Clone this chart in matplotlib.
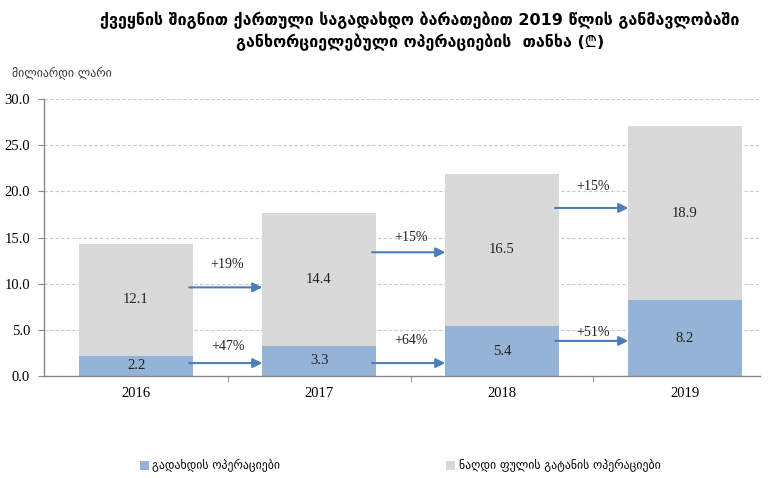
import matplotlib
matplotlib.use("Agg")
import matplotlib.pyplot as plt
import numpy as np
from matplotlib.patches import Patch

# values in billion GEL
years = ["2016", "2017", "2018", "2019"]
payments = [2.2, 3.3, 5.4, 8.2]
cash = [12.1, 14.4, 16.5, 18.9]
growth_pay = ["+47%", "+64%", "+51%"]
growth_cash = ["+19%", "+15%", "+15%"]
# arrow heights (axis units) for each transition
arrow_pay_y = [1.4, 1.4, 3.8]
arrow_cash_y = [9.6, 13.4, 18.2]
label_pay_y = [3.2, 3.8, 4.7]
label_cash_y = [12.1, 15.0, 20.5]

title = ("ქვეყნის შიგნით ქართული საგადახდო ბარათებით 2019 წლის განმავლობაში\n"
         "განხორციელებული ოპერაციების  თანხა (₾)")
unit_label = "მილიარდი ლარი"
legend_labels = ["გადახდის ოპერაციები", "ნაღდი ფულის გატანის ოპერაციები"]

BLUE = "#95b3d7"
GREY = "#d9d9d9"
ARROW = "#4a7ebb"
GEO = ["DejaVu Sans", "Noto Sans", "Inter", "Roboto", "Open Sans", "Lato"]
SERIF = ["Liberation Serif", "DejaVu Serif"]

fig = plt.figure(figsize=(7.68, 4.78), dpi=100)
ax = fig.add_axes([44 / 768, 1 - 376 / 478, 716 / 768, 277 / 478])

x = np.arange(len(years))
w = 0.62
ax.bar(x, payments, width=w, color=BLUE, zorder=2)
ax.bar(x, cash, width=w, bottom=payments, color=GREY, zorder=2)

for xi, p, c in zip(x, payments, cash):
    ax.text(xi, p / 2, f"{p:.1f}", ha="center", va="center", fontsize=10.5,
            family=SERIF, color="#222222", zorder=3)
    ax.text(xi, p + c / 2, f"{c:.1f}", ha="center", va="center", fontsize=10.5,
            family=SERIF, color="#222222", zorder=3)

# growth arrows between neighbouring bars
for i in range(len(years) - 1):
    x0 = x[i] + w / 2 - 0.02
    x1 = x[i + 1] - w / 2
    for ay, ly, txt in ((arrow_pay_y[i], label_pay_y[i], growth_pay[i]),
                        (arrow_cash_y[i], label_cash_y[i], growth_cash[i])):
        ax.annotate("", xy=(x1, ay), xytext=(x0, ay),
                    arrowprops=dict(arrowstyle="-|>", color=ARROW, lw=1.5,
                                    mutation_scale=14, shrinkA=0, shrinkB=0),
                    zorder=4)
        ax.text((x[i] + x[i + 1]) / 2, ly, txt, ha="center", va="center",
                fontsize=10, family=SERIF, color="#222222", zorder=4)

ax.set_xlim(-0.503, 3.41)
ax.set_ylim(0, 30)
ax.set_yticks(np.arange(0, 30.1, 5))
ax.set_yticklabels([f"{v:.1f}" for v in np.arange(0, 30.1, 5)], family=SERIF, fontsize=10.5)
ax.yaxis.grid(True, ls=(0, (3, 2)), color="#c8c8c8", lw=0.8, zorder=0)
ax.set_axisbelow(True)

ax.set_xticks(x)
ax.set_xticklabels(years, family=SERIF, fontsize=10.5)
ax.set_xticks(x[:-1] + 0.5, minor=True)
ax.tick_params(axis="x", which="major", length=0, pad=8)
ax.tick_params(axis="x", which="minor", length=4, color="#888888")
ax.tick_params(axis="y", length=4, color="#888888", pad=6)

for s in ("top", "right"):
    ax.spines[s].set_visible(False)
for s in ("left", "bottom"):
    ax.spines[s].set_color("#888888")
    ax.spines[s].set_linewidth(1.0)

fig.text(420 / 768, 1 - 31 / 478, title, ha="center", va="center", fontsize=11.5,
         fontweight="bold", family=GEO, linespacing=1.35)
fig.text(12 / 768, 1 - 74 / 478, unit_label, ha="left", va="center", fontsize=8.5,
         family=GEO, color="#333333")

handles = [Patch(facecolor=BLUE), Patch(facecolor=GREY)]
fig.legend(handles, legend_labels, loc="center", bbox_to_anchor=(400 / 768, 1 - 466 / 478),
           ncol=2, frameon=False, prop={"family": GEO, "size": 8.5},
           handlelength=0.8, handleheight=0.8, handletextpad=0.3, columnspacing=14)

fig.savefig("out.png", dpi=100, facecolor="white")
